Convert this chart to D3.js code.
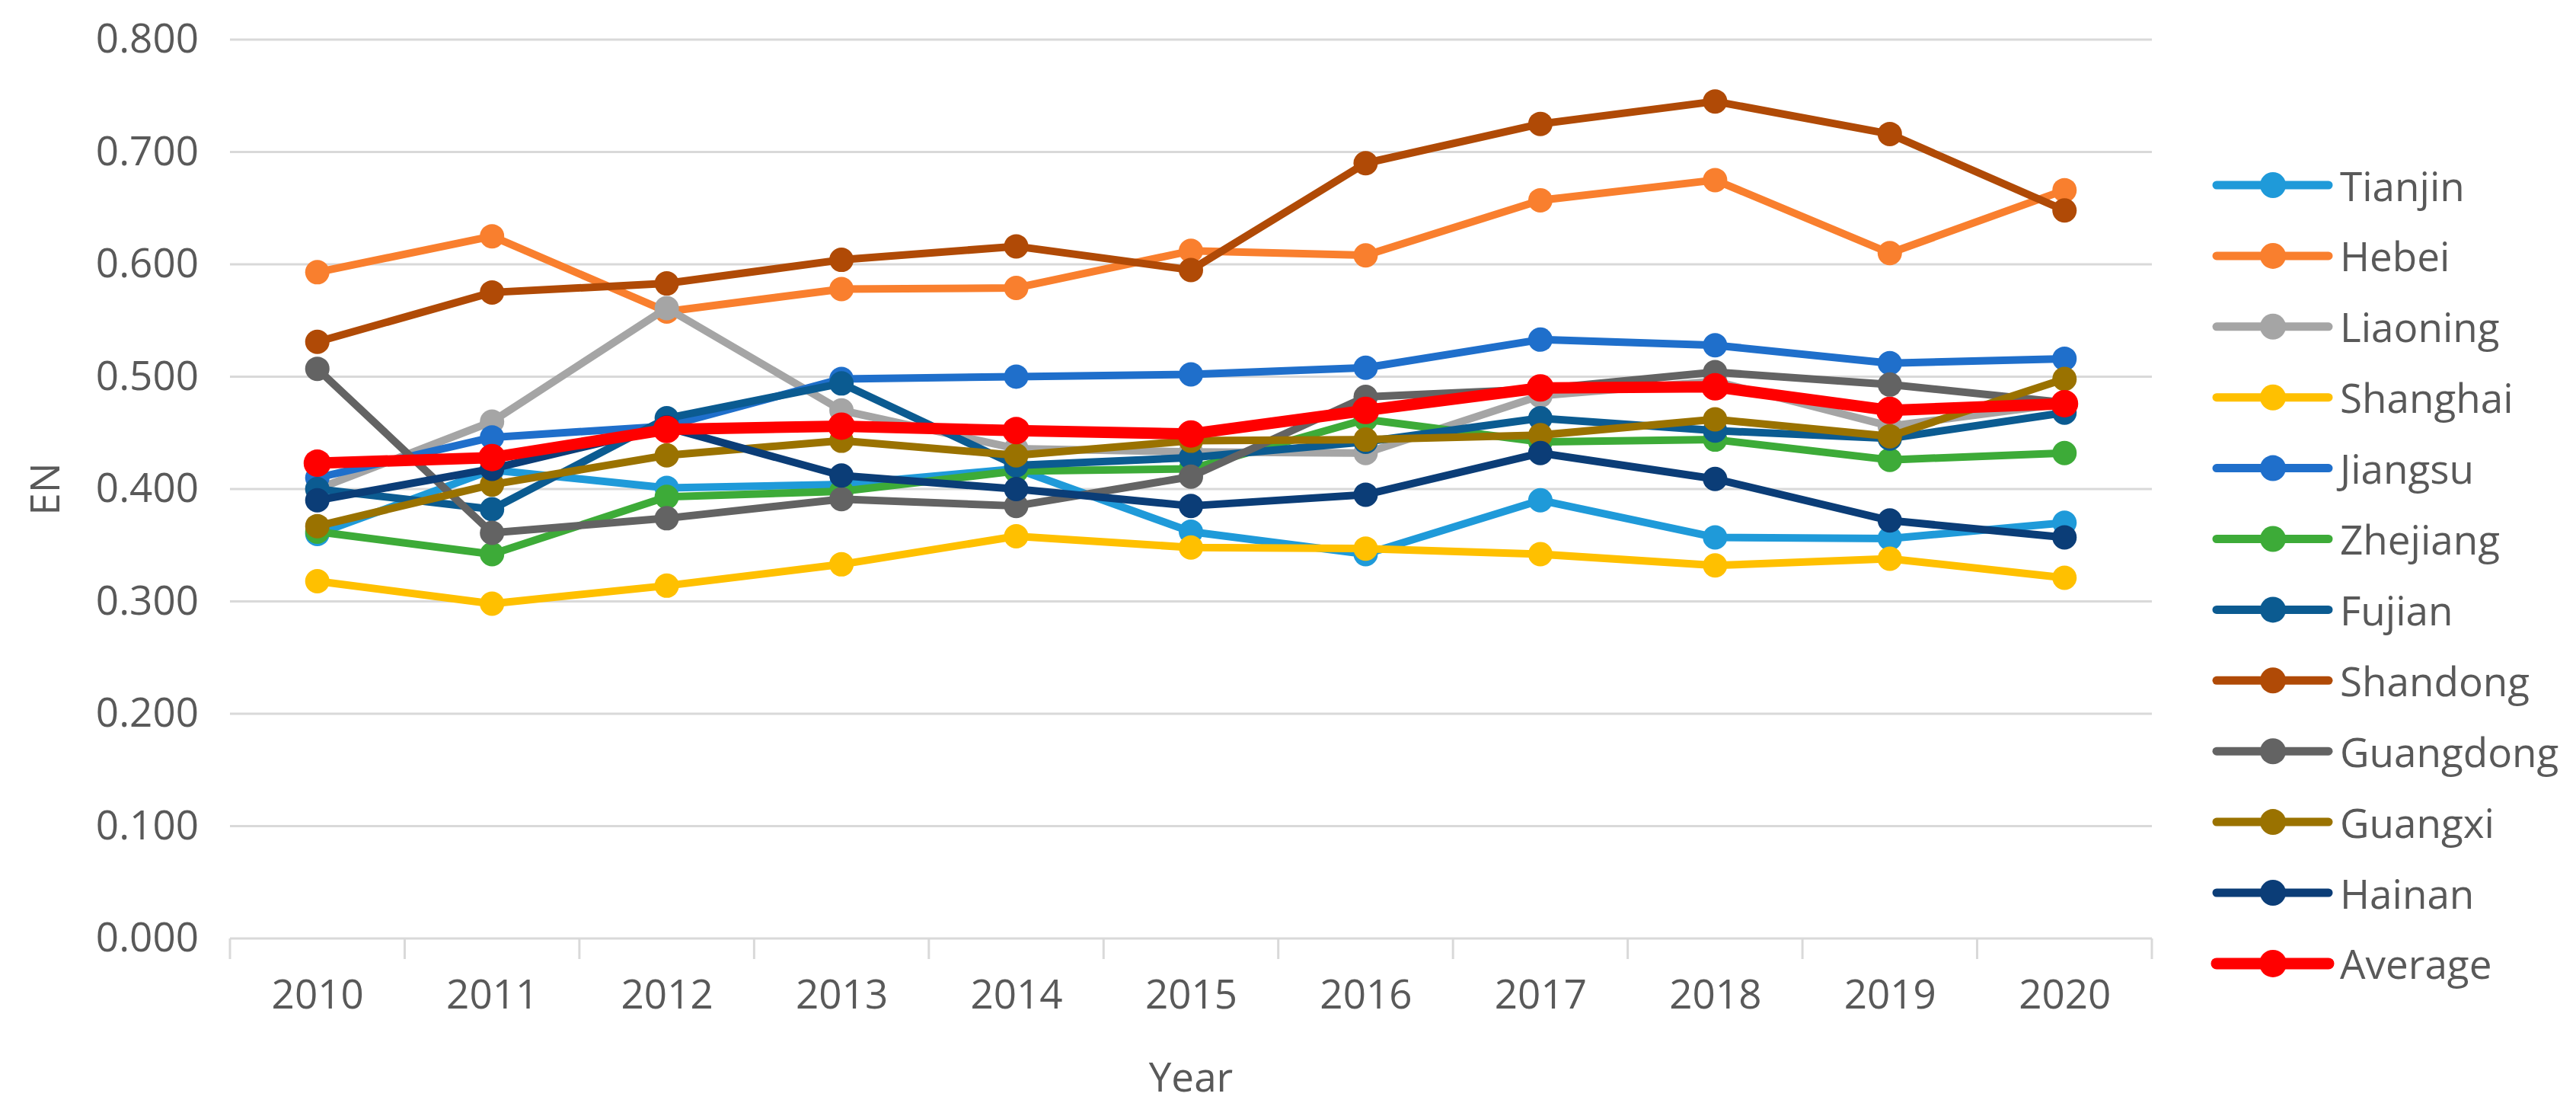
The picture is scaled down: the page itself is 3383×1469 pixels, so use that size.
<!DOCTYPE html>
<html>
<head>
<meta charset="utf-8">
<script src="https://cdn.jsdelivr.net/npm/d3@7"></script>
<style>
  html, body { margin: 0; padding: 0; background: #ffffff; }
  svg { display: block; }
</style>
</head>
<body>
<svg id="chart" width="3383" height="1469"></svg>
<script>
// ---------- data ----------
const years = ["2010","2011","2012","2013","2014","2015","2016","2017","2018","2019","2020"];
const seriesNames = ["Tianjin","Hebei","Liaoning","Shanghai","Jiangsu","Zhejiang","Fujian","Shandong","Guangdong","Guangxi","Hainan","Average"];
const tianjin   = [0.360, 0.417, 0.401, 0.404, 0.418, 0.362, 0.342, 0.390, 0.357, 0.356, 0.370];
const hebei     = [0.593, 0.625, 0.558, 0.578, 0.579, 0.612, 0.608, 0.657, 0.675, 0.610, 0.666];
const liaoning  = [0.400, 0.460, 0.561, 0.470, 0.436, 0.433, 0.432, 0.483, 0.496, 0.456, 0.476];
const shanghai  = [0.318, 0.298, 0.314, 0.333, 0.358, 0.348, 0.347, 0.342, 0.332, 0.338, 0.321];
const jiangsu   = [0.410, 0.446, 0.456, 0.498, 0.500, 0.502, 0.508, 0.533, 0.528, 0.512, 0.516];
const zhejiang  = [0.362, 0.342, 0.393, 0.398, 0.416, 0.418, 0.462, 0.442, 0.444, 0.426, 0.432];
const fujian    = [0.400, 0.382, 0.463, 0.494, 0.421, 0.428, 0.442, 0.463, 0.452, 0.445, 0.468];
const shandong  = [0.531, 0.575, 0.583, 0.604, 0.616, 0.595, 0.690, 0.725, 0.745, 0.716, 0.648];
const guangdong = [0.507, 0.361, 0.374, 0.391, 0.385, 0.411, 0.482, 0.489, 0.504, 0.493, 0.477];
const guangxi   = [0.367, 0.404, 0.430, 0.443, 0.430, 0.443, 0.444, 0.448, 0.462, 0.447, 0.498];
const hainan    = [0.390, 0.418, 0.455, 0.412, 0.400, 0.385, 0.395, 0.432, 0.409, 0.372, 0.357];
const average   = [0.423, 0.428, 0.453, 0.456, 0.452, 0.449, 0.470, 0.490, 0.491, 0.470, 0.476];
const seriesValues = [tianjin, hebei, liaoning, shanghai, jiangsu, zhejiang, fujian, shandong, guangdong, guangxi, hainan, average];
const seriesColors = ["#1f9ad9","#f97f2e","#a5a5a5","#ffc000","#1f6fcb","#3dab38","#0b5b91","#b04a06","#636363","#9a7200","#0b3d77","#ff0000"];
const yTicks = [0, 0.1, 0.2, 0.3, 0.4, 0.5, 0.6, 0.7, 0.8];
const xTitle = "Year";
const yTitle = "EN";

// ---------- layout ----------
const svg = d3.select("#chart");
const plot = { left: 302, right: 2826, top: 52, bottom: 1232 };
const textColor = "#595959";
const gridColor = "#d9d9d9";
const fontFamily = "'Open Sans', 'Liberation Sans', sans-serif";
const fontSize = 53;

svg.append("rect").attr("width", 3383).attr("height", 1469).attr("fill", "#ffffff");

const x = d3.scalePoint().domain(years).range([plot.left, plot.right]).padding(0.5);
const y = d3.scaleLinear().domain([0, 0.8]).range([plot.bottom, plot.top]);

// gridlines
svg.append("g")
  .selectAll("line")
  .data(yTicks.filter(d => d > 0))
  .join("line")
  .attr("x1", plot.left).attr("x2", plot.right)
  .attr("y1", d => y(d)).attr("y2", d => y(d))
  .attr("stroke", gridColor).attr("stroke-width", 3);

// y axis labels
const yAxis = d3.axisLeft(y).tickValues(yTicks).tickFormat(d3.format(".3f")).tickSize(0).tickPadding(41);
const gy = svg.append("g").attr("transform", `translate(${plot.left},0)`).call(yAxis);
gy.select(".domain").remove();
gy.selectAll("text")
  .attr("fill", textColor).style("font-family", fontFamily).style("font-size", fontSize + "px");

// x axis
const step = x.step();
const gx = svg.append("g").attr("transform", `translate(0,${plot.bottom})`);
gx.append("line").attr("x1", plot.left).attr("x2", plot.right).attr("y1", 0).attr("y2", 0)
  .attr("stroke", gridColor).attr("stroke-width", 3);
gx.selectAll("line.tick")
  .data(d3.range(years.length + 1))
  .join("line").attr("class", "tick")
  .attr("x1", i => plot.left + i * step).attr("x2", i => plot.left + i * step)
  .attr("y1", 0).attr("y2", 27)
  .attr("stroke", gridColor).attr("stroke-width", 3);
const xAxis = d3.axisBottom(x).tickSize(0).tickPadding(54);
const gxl = svg.append("g").attr("transform", `translate(0,${plot.bottom})`).call(xAxis);
gxl.select(".domain").remove();
gxl.selectAll("text")
  .attr("fill", textColor).style("font-family", fontFamily).style("font-size", fontSize + "px");

// axis titles
svg.append("text")
  .attr("x", (plot.left + plot.right) / 2).attr("y", 1433)
  .attr("text-anchor", "middle")
  .attr("fill", textColor).style("font-family", fontFamily).style("font-size", fontSize + "px")
  .text(xTitle);
svg.append("text")
  .attr("transform", `translate(78,${(plot.top + plot.bottom) / 2}) rotate(-90)`)
  .attr("text-anchor", "middle")
  .attr("fill", textColor).style("font-family", fontFamily).style("font-size", fontSize + "px")
  .text(yTitle);

// series
const line = d3.line().x((d, i) => x(years[i])).y(d => y(d));
seriesNames.forEach((name, si) => {
  const vals = seriesValues[si];
  const isAvg = name === "Average";
  const g = svg.append("g").attr("class", "series");
  g.append("path")
    .datum(vals)
    .attr("d", line)
    .attr("fill", "none")
    .attr("stroke", seriesColors[si])
    .attr("stroke-width", isAvg ? 15 : 10)
    .attr("stroke-linejoin", "round");
  g.selectAll("circle")
    .data(vals)
    .join("circle")
    .attr("cx", (d, i) => x(years[i]))
    .attr("cy", d => y(d))
    .attr("r", isAvg ? 18 : 16)
    .attr("fill", seriesColors[si]);
});

// legend
const legend = svg.append("g");
const legTop = 243, legStep = 92.9;
seriesNames.forEach((name, si) => {
  const isAvg = name === "Average";
  const ly = legTop + si * legStep;
  legend.append("line")
    .attr("x1", 2911).attr("x2", 3058).attr("y1", ly).attr("y2", ly)
    .attr("stroke", seriesColors[si]).attr("stroke-width", isAvg ? 15 : 11)
    .attr("stroke-linecap", "round");
  legend.append("circle")
    .attr("cx", 2985).attr("cy", ly).attr("r", isAvg ? 18 : 17)
    .attr("fill", seriesColors[si]);
  legend.append("text")
    .attr("x", 3073).attr("y", ly)
    .attr("dominant-baseline", "central")
    .attr("fill", textColor).style("font-family", fontFamily).style("font-size", fontSize + "px")
    .text(name);
});
</script>
</body>
</html>
